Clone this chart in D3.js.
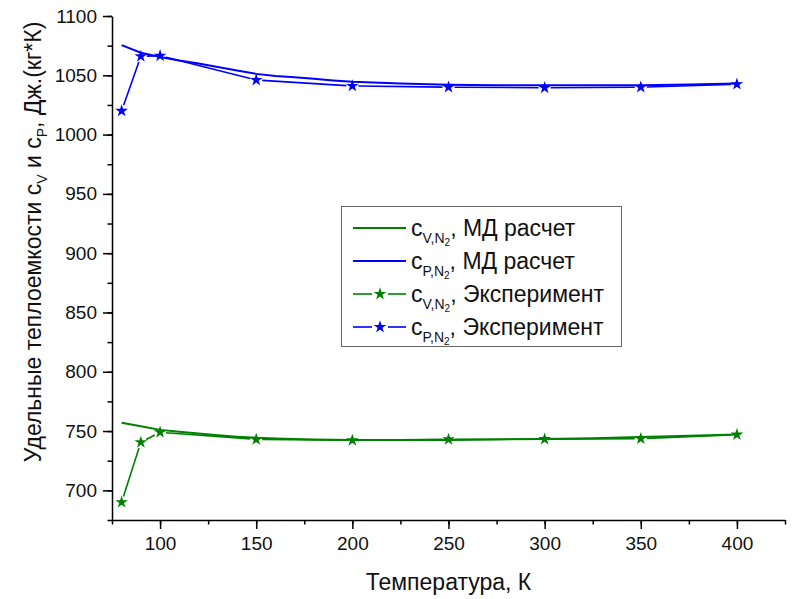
<!DOCTYPE html>
<html>
<head>
<meta charset="utf-8">
<script src="https://cdn.jsdelivr.net/npm/d3@7"></script>
<style>
  body { margin: 0; background: #fff; }
  svg { font-family: Arial, 'Liberation Sans', sans-serif; }
  .tick text { font-size: 19px; fill: #111; }
  .axis-label { font-size: 23px; fill: #111; }
  .legend text { font-size: 23px; fill: #111; }
</style>
</head>
<body>
<svg width="792" height="599"></svg>
<script>
  // temperatures of the experiment points
  const expT = [80, 90, 100, 150, 200, 250, 300, 350, 400];
  const cvExp = [690, 740.5, 749, 743, 742.2, 743, 743.2, 743.6, 747];
  const cpExp = [1020, 1066, 1066.5, 1046, 1041, 1040, 1039.5, 1040, 1042.5];

  // MD calculation curves
  const mdT = [80, 90, 100, 110, 120, 130, 140, 150, 160, 170, 180, 190, 200, 225, 250, 275, 300, 325, 350, 375, 400];
  const cvMD = [757, 754, 751, 749.5, 748, 746.5, 745.3, 744.3, 743.7, 743.2, 742.9, 742.7, 742.5, 742.4, 742.5, 742.9, 743.3, 744, 745, 746, 747];
  const cpMD = [1075.5, 1069, 1065.5, 1062.5, 1060, 1057, 1054, 1051.2, 1049.5, 1048.3, 1047, 1045.6, 1044.5, 1043, 1042, 1041.6, 1041.5, 1041.5, 1041.6, 1042.3, 1043];

  // ticks
  const xTicks = [100, 150, 200, 250, 300, 350, 400];
  const xMinor = d3.range(75, 426, 25);
  const yTicks = [700, 750, 800, 850, 900, 950, 1000, 1050, 1100];
  const yMinor = d3.range(675, 1101, 25);

  const green = '#008000';
  const blue = '#0000ff';

  const svg = d3.select('svg');

  const x = d3.scaleLinear().domain([75, 425]).range([112, 785]);
  const y = d3.scaleLinear().domain([675, 1100]).range([520, 16]);

  // minor ticks first, then major ticks with labels
  svg.append('g')
      .attr('transform', 'translate(0,520)')
      .call(d3.axisBottom(x).tickValues(xMinor).tickSize(4.5).tickSizeOuter(0).tickFormat(''))
      .call(g => g.select('.domain').remove())
      .selectAll('line').attr('stroke-width', 1.5);
  const xAxisG = svg.append('g')
      .attr('transform', 'translate(0,520)')
      .call(d3.axisBottom(x).tickValues(xTicks).tickSize(9).tickSizeOuter(0).tickPadding(8).tickFormat(d3.format('d')));
  xAxisG.selectAll('line, path').attr('stroke-width', 1.5);
  xAxisG.selectAll('.tick text').attr('font-family', null).attr('font-size', null);

  svg.append('g')
      .attr('transform', 'translate(112,0)')
      .call(d3.axisLeft(y).tickValues(yMinor).tickSize(4.5).tickSizeOuter(0).tickFormat(''))
      .call(g => g.select('.domain').remove())
      .selectAll('line').attr('stroke-width', 1.5);
  const yAxisG = svg.append('g')
      .attr('transform', 'translate(112,0)')
      .call(d3.axisLeft(y).tickValues(yTicks).tickSize(9).tickSizeOuter(0).tickPadding(6).tickFormat(d3.format('d')));
  yAxisG.selectAll('line, path').attr('stroke-width', 1.5);
  yAxisG.selectAll('.tick text').attr('font-family', null).attr('font-size', null);

  // axis titles
  svg.append('text')
      .attr('class', 'axis-label')
      .attr('x', (x.range()[0] + x.range()[1]) / 2).attr('y', 590)
      .attr('text-anchor', 'middle')
      .text('Температура, К');

  const yTitle = svg.append('text')
      .attr('class', 'axis-label')
      .attr('font-size', 22)
      .attr('transform', 'translate(41,242) rotate(-90)')
      .attr('text-anchor', 'middle');
  yTitle.append('tspan').text('Удельные теплоемкости c');
  yTitle.append('tspan').attr('font-size', 14).attr('dy', 6).text('V');
  yTitle.append('tspan').attr('dy', -6).text(' и c');
  yTitle.append('tspan').attr('font-size', 14).attr('dy', 6).text('P');
  yTitle.append('tspan').attr('dy', -6).text(', Дж.(кг*К)');

  // lines
  const line = d3.line().x(d => x(d[0])).y(d => y(d[1]));
  const drawMD = (vals, color) => svg.append('path')
      .datum(mdT.map((t, i) => [t, vals[i]]))
      .attr('fill', 'none').attr('stroke', color).attr('stroke-width', 2)
      .attr('d', line);

  // line segments with a gap round each symbol
  const gapSegs = (pts, gap) => pts.slice(1).map((p, i) => {
    const a = pts[i];
    const dx = p[0] - a[0], dy = p[1] - a[1];
    const L = Math.hypot(dx, dy);
    if (L <= 2 * gap) return null;
    return [a[0] + dx / L * gap, a[1] + dy / L * gap, p[0] - dx / L * gap, p[1] - dy / L * gap];
  }).filter(s => s);

  const star = d3.symbol(d3.symbolStar, 50);

  const drawExp = (vals, color) => {
    const pts = expT.map((t, i) => [x(t), y(vals[i])]);
    svg.append('g').selectAll('line').data(gapSegs(pts, 6))
      .enter().append('line')
        .attr('x1', d => d[0]).attr('y1', d => d[1])
        .attr('x2', d => d[2]).attr('y2', d => d[3])
        .attr('stroke', color).attr('stroke-width', 1.6);
    svg.append('g').selectAll('path').data(pts)
      .enter().append('path')
        .attr('d', star)
        .attr('transform', d => `translate(${d[0]},${d[1]})`)
        .attr('fill', color);
  };

  drawMD(cpMD, blue);
  drawMD(cvMD, green);
  drawExp(cpExp, blue);
  drawExp(cvExp, green);

  // legend
  const legendItems = [
    { sub: 'V,N', name: ', МД расчет', color: green, sym: false },
    { sub: 'P,N', name: ', МД расчет', color: blue, sym: false },
    { sub: 'V,N', name: ', Эксперимент', color: green, sym: true },
    { sub: 'P,N', name: ', Эксперимент', color: blue, sym: true }
  ];

  const legend = svg.append('g').attr('class', 'legend');
  legend.append('rect')
      .attr('x', 341.5).attr('y', 206.5).attr('width', 280).attr('height', 140)
      .attr('fill', '#fff').attr('stroke', '#666').attr('stroke-width', 1);

  const rows = legend.selectAll('g.item').data(legendItems)
    .enter().append('g')
      .attr('class', 'item')
      .attr('transform', (d, i) => `translate(0,${228 + i * 33})`);

  rows.each(function (d) {
    const r = d3.select(this);
    if (d.sym) {
      r.append('line').attr('x1', 353).attr('x2', 372).attr('stroke', d.color).attr('stroke-width', 1.6);
      r.append('line').attr('x1', 388).attr('x2', 406).attr('stroke', d.color).attr('stroke-width', 1.6);
      r.append('path').attr('d', star).attr('transform', 'translate(380,0)').attr('fill', d.color);
    } else {
      r.append('line').attr('x1', 353).attr('x2', 406).attr('stroke', d.color).attr('stroke-width', 2);
    }
    const t = r.append('text').attr('x', 411).attr('y', 8);
    t.append('tspan').text('c');
    t.append('tspan').attr('font-size', 14).attr('dy', 7).text(d.sub);
    t.append('tspan').attr('font-size', 10).attr('dy', 3).text('2');
    t.append('tspan').attr('dy', -10).text(d.name);
  });
</script>
</body>
</html>
